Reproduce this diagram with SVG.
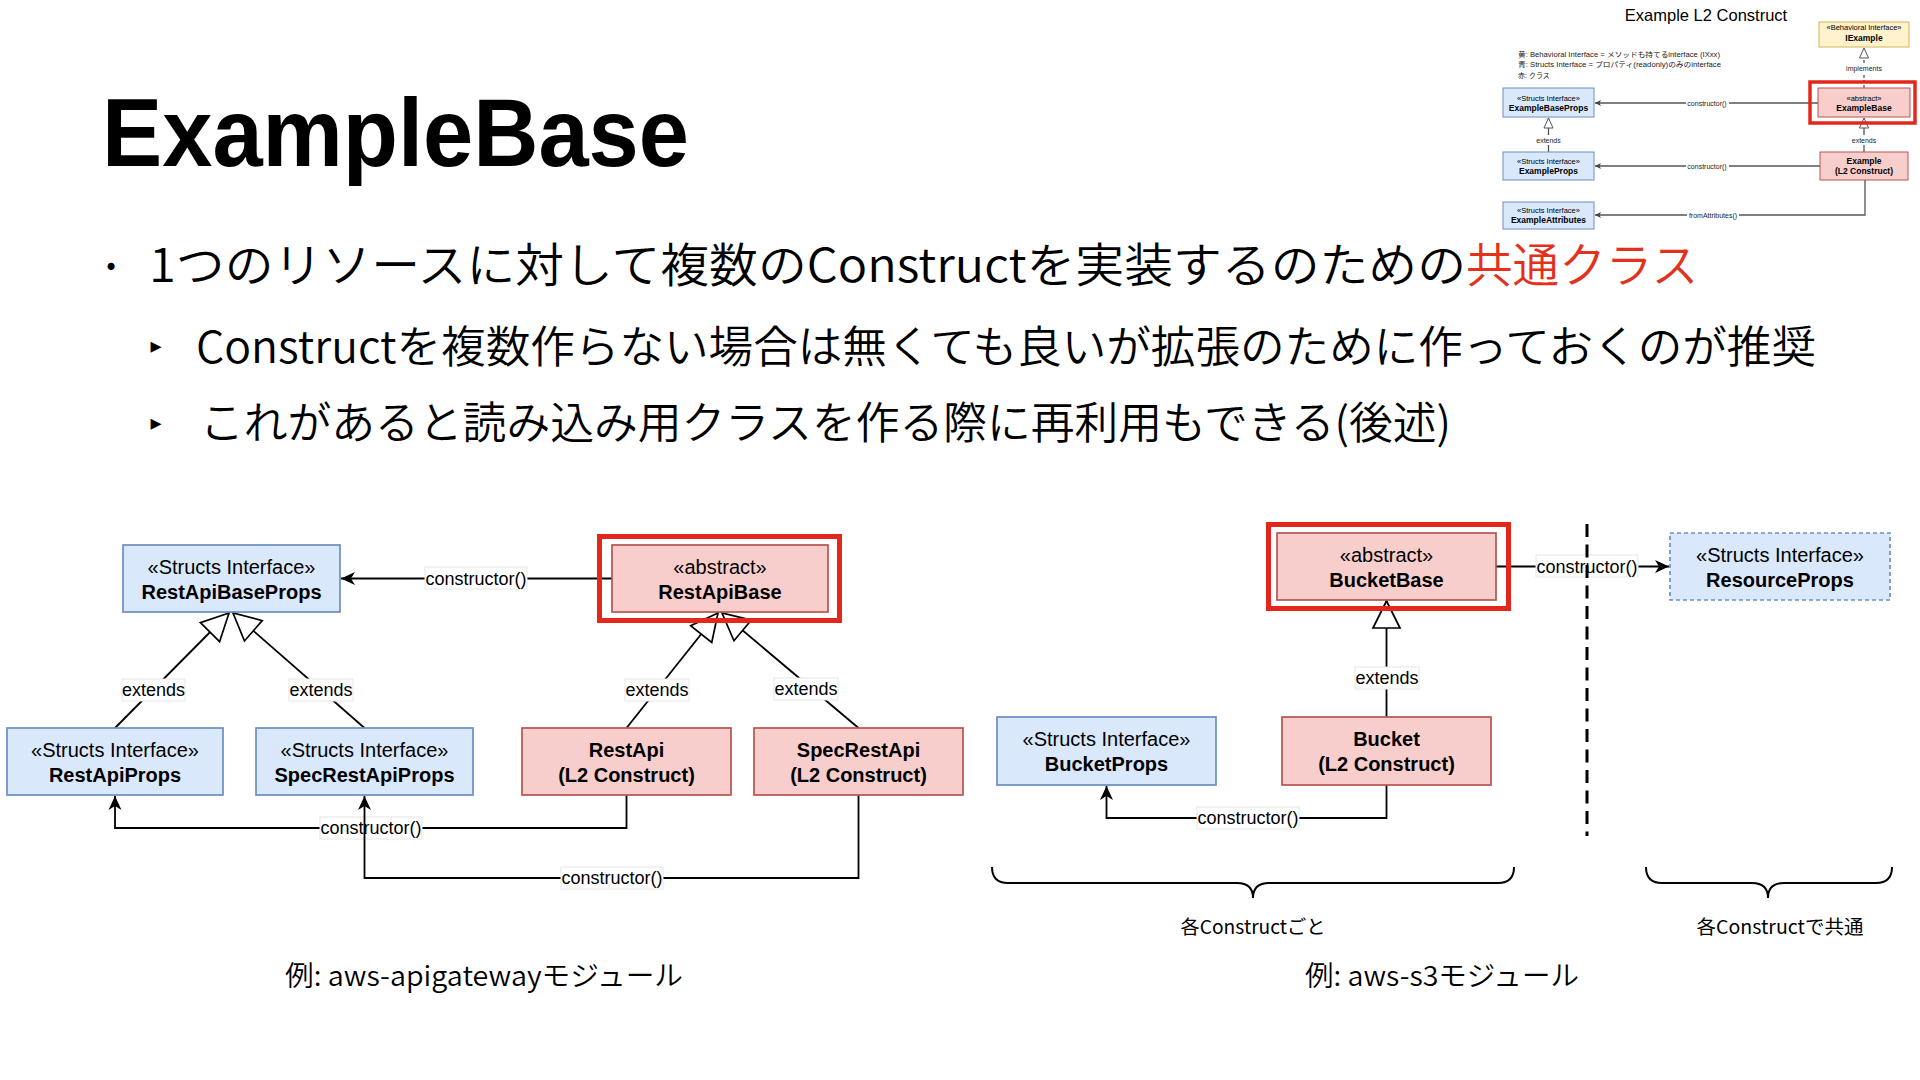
<svg xmlns="http://www.w3.org/2000/svg" width="1920" height="1080" viewBox="0 0 1920 1080">
<style>
.bg{fill:#fff}
.ttl{font-family:"Liberation Sans",Arial,sans-serif;font-weight:bold;font-size:96px;fill:#000}
.jp{font-family:"Noto Sans CJK JP","Noto Sans",sans-serif;fill:#000;font-weight:350}
.sym{font-family:"DejaVu Sans",sans-serif;fill:#000}
.blue{fill:#dae8fc;stroke:#6c8ebf;stroke-width:1.7}
.red{fill:#f8cecc;stroke:#b85450;stroke-width:1.7}
.yel{fill:#fff2cc;stroke:#d6b656;stroke-width:1}
.hl{fill:none;stroke:#e3281b;stroke-width:5}
.n1{font-family:"Liberation Sans",Arial,sans-serif;font-size:20px;fill:#000;text-anchor:middle}
.n2{font-family:"Liberation Sans",Arial,sans-serif;font-size:20px;font-weight:bold;fill:#000;text-anchor:middle}
.ln{fill:none;stroke:#000;stroke-width:1.8}
.lb{fill:#fff;stroke:#e6e6e6;stroke-width:1}
.lt{font-family:"Liberation Sans",Arial,sans-serif;font-size:18px;fill:#000;text-anchor:middle}
.s1{font-family:"Liberation Sans",Arial,sans-serif;font-size:7.5px;fill:#000;text-anchor:middle}
.s2{font-family:"Liberation Sans",Arial,sans-serif;font-size:8.5px;font-weight:bold;fill:#000;text-anchor:middle}
.sl{fill:none;stroke:#555;stroke-width:1.3}
.sb{fill:#fff}
.st{font-family:"Liberation Sans",Arial,sans-serif;font-size:7px;fill:#222;text-anchor:middle}
.leg{font-family:"Liberation Sans","Noto Sans CJK JP",sans-serif;font-size:7px;fill:#222}
</style>
<defs>
<marker id="arrow" viewBox="-16 -8 18 16" refX="0" refY="0" markerWidth="18" markerHeight="16" markerUnits="userSpaceOnUse" orient="auto"><path d="M0,0 L-14,-6.5 L-10,0 L-14,6.5 Z" fill="#000"/></marker>
<marker id="tri" viewBox="-30 -16 32 32" refX="0" refY="0" markerWidth="32" markerHeight="32" markerUnits="userSpaceOnUse" orient="auto"><path d="M0,0 L-27,-13.5 L-27,13.5 Z" fill="#fff" stroke="#000" stroke-width="1.7"/></marker>
<marker id="arrowS" viewBox="-8 -4 9 8" refX="0" refY="0" markerWidth="9" markerHeight="8" markerUnits="userSpaceOnUse" orient="auto"><path d="M0,0 L-6,-3 L-4.5,0 L-6,3 Z" fill="#444"/></marker>
<marker id="triS" viewBox="-12 -6 13 12" refX="0" refY="0" markerWidth="13" markerHeight="12" markerUnits="userSpaceOnUse" orient="auto"><path d="M0,0 L-10,-4.5 L-10,4.5 Z" fill="#fff" stroke="#555" stroke-width="1"/></marker>
</defs>
<rect class="bg" x="0" y="0" width="1920" height="1080"/>

<!-- Title and bullets -->
<text class="ttl" x="102" y="166" textLength="587" lengthAdjust="spacingAndGlyphs">ExampleBase</text>
<text class="sym" x="111" y="276" font-size="24" text-anchor="middle">•</text>
<text class="jp" x="149" y="282" font-size="47" textLength="1317" lengthAdjust="spacingAndGlyphs">1つのリソースに対して複数のConstructを実装するのための</text>
<text class="jp" x="1466" y="282" font-size="47" textLength="232" lengthAdjust="spacingAndGlyphs" style="fill:#e3311d">共通クラス</text>
<text class="sym" x="156" y="353" font-size="22" text-anchor="middle">▸</text>
<text class="jp" x="196" y="363" font-size="44" textLength="1620" lengthAdjust="spacingAndGlyphs">Constructを複数作らない場合は無くても良いが拡張のために作っておくのが推奨</text>
<text class="sym" x="156" y="430" font-size="22" text-anchor="middle">▸</text>
<text class="jp" x="200" y="439" font-size="44" textLength="1251" lengthAdjust="spacingAndGlyphs">これがあると読み込み用クラスを作る際に再利用もできる(後述)</text>

<!-- Thumbnail: Example L2 Construct -->
<g id="thumbnail">
<text x="1706" y="21" font-family="Liberation Sans, Arial, sans-serif" font-size="16.5" text-anchor="middle" fill="#000">Example L2 Construct</text>
<text class="leg" x="1518" y="57" textLength="202" lengthAdjust="spacingAndGlyphs">黄: Behavioral Interface = メソッドも持てるinterface (IXxx)</text>
<text class="leg" x="1518" y="67" textLength="203" lengthAdjust="spacingAndGlyphs">青: Structs Interface = プロパティ(readonly)のみのinterface</text>
<text class="leg" x="1518" y="78">赤: クラス</text>
<g id="t-connectors">
<path class="sl" d="M1864,88 L1864,48" stroke-dasharray="3 2" marker-end="url(#triS)"/>
<rect class="sb" x="1844" y="63" width="40" height="10"/>
<text class="st" x="1864" y="70.5">implements</text>
<path class="sl" d="M1818,103 L1595,103" marker-end="url(#arrowS)"/>
<rect class="sb" x="1686" y="98" width="43" height="10"/>
<text class="st" x="1707" y="105.5">constructor()</text>
<path class="sl" d="M1548.5,152 L1548.5,118" marker-end="url(#triS)"/>
<rect class="sb" x="1535" y="135" width="27" height="10"/>
<text class="st" x="1548.5" y="142.5">extends</text>
<path class="sl" d="M1864,152 L1864,118" marker-end="url(#triS)"/>
<rect class="sb" x="1851" y="135" width="27" height="10"/>
<text class="st" x="1864" y="142.5">extends</text>
<path class="sl" d="M1820,166 L1595,166" marker-end="url(#arrowS)"/>
<rect class="sb" x="1686" y="161" width="43" height="10"/>
<text class="st" x="1707" y="168.5">constructor()</text>
<path class="sl" d="M1865,180 L1865,215 L1595,215" marker-end="url(#arrowS)"/>
<rect class="sb" x="1687" y="210" width="52" height="10"/>
<text class="st" x="1713" y="217.5">fromAttributes()</text>
</g>
<g id="t-IExample"><rect class="yel" x="1819" y="22" width="90" height="25"/><text class="s1" x="1864" y="30">«Behavioral Interface»</text><text class="s2" x="1864" y="41">IExample</text></g>
<g id="t-ExampleBaseProps"><rect class="blue" style="stroke-width:1" x="1503" y="88" width="91" height="29"/><text class="s1" x="1548.5" y="101">«Structs Interface»</text><text class="s2" x="1548.5" y="111">ExampleBaseProps</text></g>
<g id="t-ExampleBase"><rect class="red" style="stroke-width:1" x="1818" y="88" width="92" height="29"/><text class="s1" x="1864" y="101">«abstract»</text><text class="s2" x="1864" y="111">ExampleBase</text><rect class="hl" style="stroke-width:3.5" x="1810" y="82" width="105" height="41"/></g>
<g id="t-ExampleProps"><rect class="blue" style="stroke-width:1" x="1503" y="152" width="91" height="28"/><text class="s1" x="1548.5" y="164">«Structs Interface»</text><text class="s2" x="1548.5" y="174">ExampleProps</text></g>
<g id="t-Example"><rect class="red" style="stroke-width:1" x="1820" y="152" width="88" height="28"/><text class="s2" x="1864" y="164">Example</text><text class="s2" x="1864" y="174">(L2 Construct)</text></g>
<g id="t-ExampleAttributes"><rect class="blue" style="stroke-width:1" x="1503" y="202" width="91" height="27"/><text class="s1" x="1548.5" y="213">«Structs Interface»</text><text class="s2" x="1548.5" y="223">ExampleAttributes</text></g>
</g>

<!-- Connectors -->
<g id="connectors">
<path class="ln" d="M612,578.5 L341,578.5" marker-end="url(#arrow)"/>
<rect class="lb" x="425" y="567" width="102" height="22"/>
<text class="lt" x="476" y="584.5">constructor()</text>

<path class="ln" d="M115,728 L229,613" marker-end="url(#tri)"/>
<rect class="lb" x="122" y="679" width="63" height="22"/>
<text class="lt" x="153.5" y="696">extends</text>
<path class="ln" d="M364.5,728 L233,613" marker-end="url(#tri)"/>
<rect class="lb" x="289" y="679" width="64" height="22"/>
<text class="lt" x="321" y="696">extends</text>
<path class="ln" d="M626.5,728 L718,613" marker-end="url(#tri)"/>
<rect class="lb" x="625" y="679" width="64" height="22"/>
<text class="lt" x="657" y="696">extends</text>
<path class="ln" d="M858.5,728 L722,613" marker-end="url(#tri)"/>
<rect class="lb" x="774" y="678" width="64" height="22"/>
<text class="lt" x="806" y="695">extends</text>

<path class="ln" d="M626.5,795 L626.5,828 L115,828 L115,796" marker-end="url(#arrow)"/>
<rect class="lb" x="320" y="817" width="102" height="22"/>
<text class="lt" x="371" y="834">constructor()</text>
<path class="ln" d="M858.5,795 L858.5,878 L364.5,878 L364.5,796" marker-end="url(#arrow)"/>
<rect class="lb" x="561" y="867" width="102" height="22"/>
<text class="lt" x="612" y="884">constructor()</text>

<path class="ln" d="M1386.5,717 L1386.5,601" marker-end="url(#tri)"/>
<rect class="lb" x="1355" y="667" width="64" height="22"/>
<text class="lt" x="1387" y="684">extends</text>
<path class="ln" d="M1386.5,785 L1386.5,818 L1106.5,818 L1106.5,786" marker-end="url(#arrow)"/>
<rect class="lb" x="1197" y="807" width="102" height="22"/>
<text class="lt" x="1248" y="824">constructor()</text>
<path class="ln" d="M1496,566.5 L1669,566.5" marker-end="url(#arrow)"/>
<rect class="lb" x="1536" y="555" width="102" height="22"/>
<text class="lt" x="1587" y="572.5">constructor()</text>

<path d="M1587,524 L1587,836" fill="none" stroke="#000" stroke-width="3" stroke-dasharray="13 7.5"/>
<path class="ln" style="stroke-width:2" d="M992,867 Q992,883 1008,883 L1237,883 Q1253,883 1253,898 Q1253,883 1269,883 L1498,883 Q1514,883 1514,867"/>
<path class="ln" style="stroke-width:2" d="M1646,867 Q1646,883 1662,883 L1752,883 Q1768,883 1768,898 Q1768,883 1784,883 L1876,883 Q1892,883 1892,867"/>
</g>

<!-- Nodes -->
<g id="RestApiBaseProps"><rect class="blue" x="123" y="545" width="217" height="67"/><text class="n1" x="231.5" y="574">«Structs Interface»</text><text class="n2" x="231.5" y="599">RestApiBaseProps</text></g>
<g id="RestApiBase"><rect class="red" x="612" y="545" width="216" height="67"/><text class="n1" x="720" y="574">«abstract»</text><text class="n2" x="720" y="599">RestApiBase</text><rect class="hl" x="599.5" y="536.5" width="240" height="84"/></g>
<g id="RestApiProps"><rect class="blue" x="7" y="728" width="216" height="67"/><text class="n1" x="115" y="757">«Structs Interface»</text><text class="n2" x="115" y="782">RestApiProps</text></g>
<g id="SpecRestApiProps"><rect class="blue" x="256" y="728" width="217" height="67"/><text class="n1" x="364.5" y="757">«Structs Interface»</text><text class="n2" x="364.5" y="782">SpecRestApiProps</text></g>
<g id="RestApi"><rect class="red" x="522" y="728" width="209" height="67"/><text class="n2" x="626.5" y="757">RestApi</text><text class="n2" x="626.5" y="782">(L2 Construct)</text></g>
<g id="SpecRestApi"><rect class="red" x="754" y="728" width="209" height="67"/><text class="n2" x="858.5" y="757">SpecRestApi</text><text class="n2" x="858.5" y="782">(L2 Construct)</text></g>
<g id="BucketBase"><rect class="red" x="1277" y="533" width="219" height="67"/><text class="n1" x="1386.5" y="562">«abstract»</text><text class="n2" x="1386.5" y="587">BucketBase</text><rect class="hl" x="1268.5" y="524.5" width="240" height="84"/></g>
<g id="Bucket"><rect class="red" x="1282" y="717" width="209" height="68"/><text class="n2" x="1386.5" y="746">Bucket</text><text class="n2" x="1386.5" y="771">(L2 Construct)</text></g>
<g id="BucketProps"><rect class="blue" x="997" y="717" width="219" height="68"/><text class="n1" x="1106.5" y="746">«Structs Interface»</text><text class="n2" x="1106.5" y="771">BucketProps</text></g>
<g id="ResourceProps"><rect class="blue" x="1670" y="533" width="220" height="67" stroke-dasharray="4 3"/><text class="n1" x="1780" y="562">«Structs Interface»</text><text class="n2" x="1780" y="587">ResourceProps</text></g>

<!-- Captions -->
<text class="jp" x="1253" y="934" font-size="19" text-anchor="middle" textLength="145" lengthAdjust="spacingAndGlyphs" style="font-weight:400">各Constructごと</text>
<text class="jp" x="1780" y="934" font-size="19" text-anchor="middle" textLength="167" lengthAdjust="spacingAndGlyphs" style="font-weight:400">各Constructで共通</text>
<text class="jp" x="285" y="986" font-size="28" textLength="398" lengthAdjust="spacingAndGlyphs">例: aws-apigatewayモジュール</text>
<text class="jp" x="1305" y="986" font-size="28" textLength="274" lengthAdjust="spacingAndGlyphs">例: aws-s3モジュール</text>
</svg>
